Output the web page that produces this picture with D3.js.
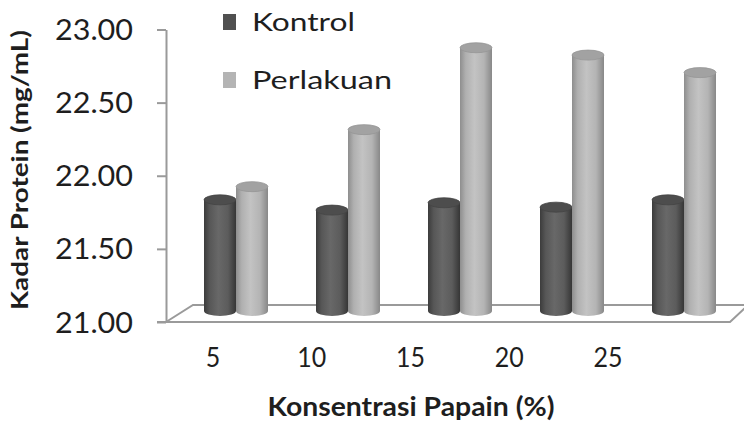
<!DOCTYPE html>
<html>
<head>
<meta charset="utf-8">
<script src="https://cdn.jsdelivr.net/npm/d3@7"></script>
<style>
  html, body { margin: 0; padding: 0; background: #fff; }
  svg { display: block; }
  text { font-family: Lato, "Open Sans", sans-serif; fill: #1e1e1e; }
</style>
</head>
<body>
<svg id="chart" width="744" height="423"></svg>
<script>
// Protein content per papain concentration
const categories = ["5", "10", "15", "20", "25"];
const kontrol    = [21.76, 21.69, 21.74, 21.71, 21.76];
const perlakuan  = [21.85, 22.24, 22.80, 22.75, 22.63];
const yTicks     = [21.00, 21.50, 22.00, 22.50, 23.00];
const seriesNames = ["Kontrol", "Perlakuan"];

const svg = d3.select("#chart");

// Value scale on the front plane of the 3D box
const y = d3.scaleLinear().domain([21, 23]).range([322, 29.5]);
// Bar group centres (placed in the middle depth of the box)
const xBar = d3.scalePoint().domain(categories).range([237, 685]);
// Category labels along the front edge
const xLab = d3.scalePoint().domain(categories).range([213, 608]);

const depthDy = -11;     // mid-depth vertical shift for the cylinders
const barW = 32, ry = 5;

// Gradients for the cylinder sides
const defs = svg.append("defs");
function grad(id, stops) {
  const g = defs.append("linearGradient").attr("id", id)
    .attr("x1", "0%").attr("x2", "100%").attr("y1", "0%").attr("y2", "0%");
  stops.forEach(([o, c]) => g.append("stop").attr("offset", o).attr("stop-color", c));
}
grad("gK", [["0%", "#3c3c3c"], ["18%", "#575757"], ["45%", "#686868"], ["75%", "#5c5c5c"], ["100%", "#363636"]]);
grad("gP", [["0%", "#8e8e8e"], ["18%", "#b0b0b0"], ["45%", "#c3c3c3"], ["75%", "#b4b4b4"], ["100%", "#888888"]]);

// Floor of the 3D box
const base = y(21);
const floor = [[166, base], [193, base - 17], [748, base - 17], [730, base]];
svg.append("path")
  .attr("d", d3.line()(floor) + "Z")
  .attr("fill", "#fff")
  .attr("stroke", "#9a9a9a")
  .attr("stroke-width", 2);
svg.append("line")
  .attr("x1", 157).attr("x2", 168).attr("y1", base).attr("y2", base)
  .attr("stroke", "#9a9a9a").attr("stroke-width", 2);

// Value axis
const yAxis = svg.append("g")
  .attr("transform", "translate(166,0)")
  .call(d3.axisLeft(y).tickValues(yTicks).tickFormat(d3.format(".2f"))
    .tickSize(9).tickSizeOuter(0).tickPadding(24));
yAxis.select(".domain").attr("stroke", "#9a9a9a").attr("stroke-width", 2);
yAxis.selectAll(".tick line").attr("stroke", "#9a9a9a").attr("stroke-width", 2);
yAxis.selectAll(".tick text")
  .attr("font-size", 28)
  .attr("font-family", "Lato, sans-serif")
  .attr("fill", "#1e1e1e")
  .attr("dy", "0.36em")
  .attr("textLength", 78)
  .attr("lengthAdjust", "spacingAndGlyphs");

// Cylinders
function cylinder(g, x0, v, fillId, topFill, edge) {
  const x1 = x0 + barW, rx = barW / 2, cx = x0 + rx;
  const yb = y(21) + depthDy, yt = y(v) + depthDy;
  g.append("path")
    .attr("d", `M${x0},${yt} L${x0},${yb} A${rx},${ry} 0 0 0 ${x1},${yb} L${x1},${yt} Z`)
    .attr("fill", `url(#${fillId})`);
  g.append("ellipse")
    .attr("cx", cx).attr("cy", yt).attr("rx", rx).attr("ry", ry)
    .attr("fill", topFill).attr("stroke", edge).attr("stroke-width", 0.8);
}

const bars = svg.append("g");
categories.forEach((c, i) => {
  const cx = xBar(c);
  cylinder(bars, cx - 33, kontrol[i], "gK", "#4d4d4d", "#444");
  cylinder(bars, cx - 1, perlakuan[i], "gP", "#a2a2a2", "#959595");
});

// Category labels
svg.append("g").selectAll("text")
  .data(categories).join("text")
  .attr("x", d => xLab(d))
  .attr("y", 367)
  .attr("text-anchor", "middle")
  .attr("font-size", 26)
  .attr("textLength", d => d.length * 14.5)
  .attr("lengthAdjust", "spacingAndGlyphs")
  .text(d => d);

// Axis titles
svg.append("text")
  .attr("x", 411).attr("y", 416)
  .attr("text-anchor", "middle")
  .attr("font-size", 26).attr("font-weight", "bold")
  .attr("textLength", 287).attr("lengthAdjust", "spacingAndGlyphs")
  .text("Konsentrasi Papain (%)");

svg.append("text")
  .attr("transform", "translate(28,170) rotate(-90)")
  .attr("text-anchor", "middle")
  .attr("font-size", 23).attr("font-weight", "bold")
  .attr("textLength", 280).attr("lengthAdjust", "spacingAndGlyphs")
  .text("Kadar Protein (mg/mL)");

// Legend
const legend = svg.append("g");
const legFills = ["#505050", "#b4b4b4"];
const legY = [22, 80];
seriesNames.forEach((s, i) => {
  legend.append("rect")
    .attr("x", 223).attr("y", legY[i] - 8).attr("width", 13).attr("height", 16)
    .attr("fill", legFills[i]);
  legend.append("text")
    .attr("x", 252).attr("y", legY[i] + 9)
    .attr("font-size", 25)
    .attr("textLength", i === 0 ? 103 : 140).attr("lengthAdjust", "spacingAndGlyphs")
    .text(s);
});
</script>
</body>
</html>
